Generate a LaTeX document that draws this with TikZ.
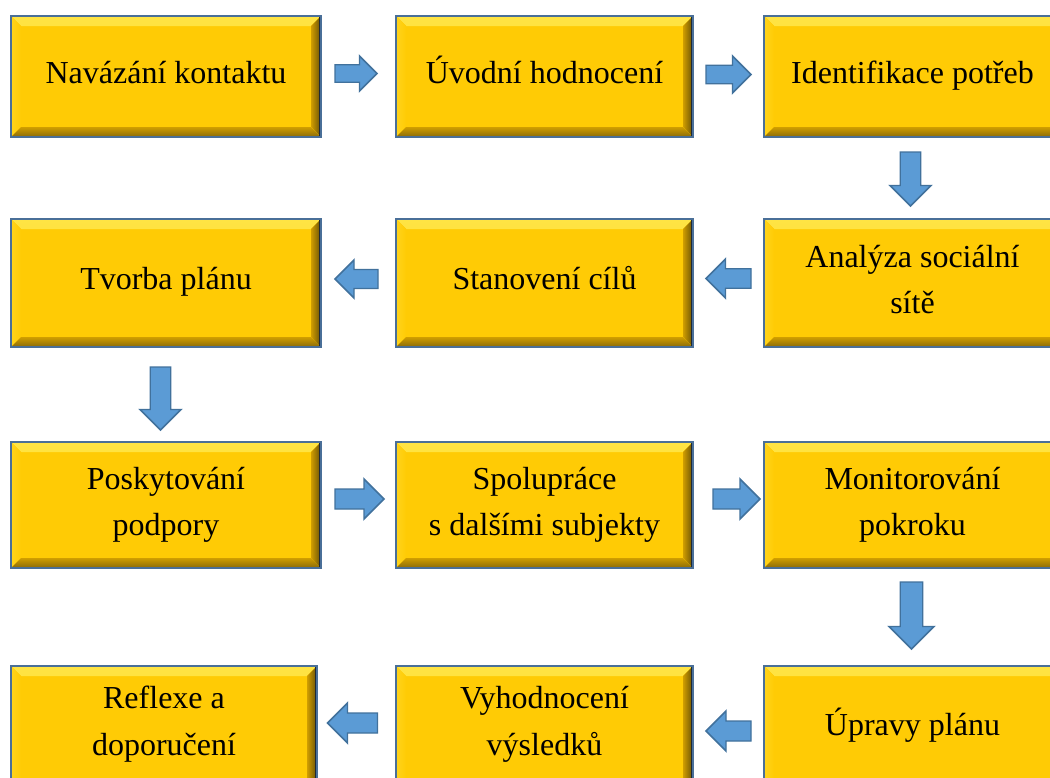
\documentclass[tikz,border=0pt]{standalone}
\usepackage{fontspec}
\setmainfont{Liberation Serif}
\usetikzlibrary{calc}
\definecolor{gold}{HTML}{FFCB05}
\definecolor{goldlight}{HTML}{FFE444}
\definecolor{goldmid}{HTML}{FFD41C}
\definecolor{golddark}{HTML}{D09E00}
\definecolor{goldshade}{HTML}{8A6A08}
\definecolor{boxedge}{HTML}{4A6F98}
\definecolor{arrowfill}{HTML}{5B9BD5}
\definecolor{arrowedge}{HTML}{41719C}
\definecolor{darkedge}{HTML}{1E2A36}
\newcommand\boxstrut{\rule[-11.8pt]{0pt}{33.8pt}}
\newcommand\upstrut{\rule{0pt}{23pt}}
\tikzset{
  bevelbox/.style n args={2}{
    minimum width=#1*0.75pt, minimum height=#2*0.75pt, inner sep=0pt,
    fill=gold, draw=boxedge, line width=1.1pt, align=center,
    font=\fontsize{24}{35}\selectfont,
    execute at begin node=\boxstrut, execute at end node=\boxstrut,
    path picture={
      \fill[top color=goldlight, bottom color=goldmid]
        (path picture bounding box.north west) -- (path picture bounding box.north east)
        -- ([shift={(-7.5pt,-7.5pt)}]path picture bounding box.north east)
        -- ([shift={(7.5pt,-7.5pt)}]path picture bounding box.north west) -- cycle;
      \fill[left color=goldmid, right color=gold]
        (path picture bounding box.north west)
        -- ([shift={(7.5pt,-7.5pt)}]path picture bounding box.north west)
        -- ([shift={(7.5pt,7.5pt)}]path picture bounding box.south west)
        -- (path picture bounding box.south west) -- cycle;
      \fill[top color=golddark, bottom color=goldshade]
        (path picture bounding box.south west)
        -- ([shift={(7.5pt,7.5pt)}]path picture bounding box.south west)
        -- ([shift={(-7.5pt,7.5pt)}]path picture bounding box.south east)
        -- (path picture bounding box.south east) -- cycle;
      \fill[left color=golddark, right color=goldshade!75!black]
        (path picture bounding box.north east)
        -- ([shift={(-7.5pt,-7.5pt)}]path picture bounding box.north east)
        -- ([shift={(-7.5pt,7.5pt)}]path picture bounding box.south east)
        -- (path picture bounding box.south east) -- cycle;
      \draw[darkedge, line width=2.4pt]
        (path picture bounding box.north east) -- (path picture bounding box.south east);
    }
  },
  pics/barrow/.style n args={2}{code={
    \draw[fill=arrowfill, draw=arrowedge, line width=1.1pt, line join=miter]
      ({-#1/2},{-#2/2}) -- ({#1/2-#2},{-#2/2}) -- ({#1/2-#2},{-#2}) -- ({#1/2},0)
      -- ({#1/2-#2},{#2}) -- ({#1/2-#2},{#2/2}) -- ({-#1/2},{#2/2}) -- cycle;
  }}
}
\begin{document}
\begin{tikzpicture}[x=0.75pt,y=-0.75pt]
\useasboundingbox (0,0) rectangle (1050,778);
\clip (0,0) rectangle (1050,778);
\fill[white] (0,0) rectangle (1050,778);

\node[bevelbox={310}{121}] (n1) at (166,76.5) {Navázání kontaktu};
\node[bevelbox={297}{121}] (n2) at (544.5,76.5) {Úvodní hodnocení};
\node[bevelbox={297}{121}] (n3) at (912.5,76.5) {Identifikace potřeb};
\node[bevelbox={297}{128}] (n4) at (912.5,283) {\upstrut Analýza sociální\\sítě};
\node[bevelbox={297}{128}] (n5) at (544.5,283) {Stanovení cílů};
\node[bevelbox={310}{128}] (n6) at (166,283) {Tvorba plánu};
\node[bevelbox={310}{126}] (n7) at (166,505) {\upstrut Poskytování\\podpory};
\node[bevelbox={297}{126}] (n8) at (544.5,505) {\upstrut Spolupráce\\s dalšími subjekty};
\node[bevelbox={297}{126}] (n9) at (912.5,505) {\upstrut Monitorování\\pokroku};
\node[bevelbox={297}{125}] (n10) at (912.5,728.5) {Úpravy plánu};
\node[bevelbox={297}{125}] (n11) at (544.5,728.5) {Vyhodnocení\\výsledků};
\node[bevelbox={306}{125}] (n12) at (164,728.5) {Reflexe a\\doporučení};

\pic at ($(n1.east)!0.5!(n2.west)+(-2.5,-3)$) {barrow={42}{17.5}};
\pic at ($(n2.east)!0.5!(n3.west)+(0,-2)$) {barrow={45}{18.5}};
\pic[rotate=-90] at ($(n3.south)!0.5!(n4.north)+(-2,1)$) {barrow={54}{20.5}};
\pic[rotate=180] at ($(n4.west)!0.5!(n5.east)+(0,-4.5)$) {barrow={45}{19.5}};
\pic[rotate=180] at ($(n5.west)!0.5!(n6.east)+(-2,-4)$) {barrow={43}{19}};
\pic[rotate=-90] at ($(n6.south)!0.5!(n7.north)+(-5.5,4)$) {barrow={63}{20.5}};
\pic at ($(n7.east)!0.5!(n8.west)+(1,-6)$) {barrow={49}{20}};
\pic at ($(n8.east)!0.5!(n9.west)+(8,-6)$) {barrow={47}{20}};
\pic[rotate=-90] at ($(n9.south)!0.5!(n10.north)+(-1,-1.5)$) {barrow={67}{22.5}};
\pic[rotate=180] at ($(n10.west)!0.5!(n11.east)+(0,2.5)$) {barrow={45}{20}};
\pic[rotate=180] at ($(n11.west)!0.5!(n12.east)+(-4,-5.5)$) {barrow={50}{20}};
\end{tikzpicture}
\end{document}
